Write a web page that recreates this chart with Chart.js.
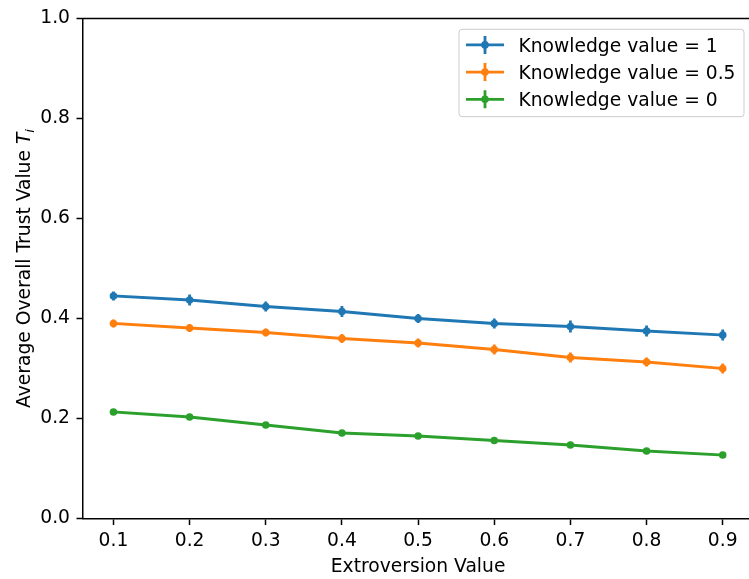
<!DOCTYPE html>
<html>
<head>
<meta charset="utf-8">
<script src="https://cdn.jsdelivr.net/npm/chart.js@4.4.1/dist/chart.umd.min.js"></script>
<style>
  html, body { margin: 0; padding: 0; background: #fff; overflow: hidden; }
  canvas { display: block; }
</style>
</head>
<body>
<canvas id="chart" width="749" height="579"></canvas>
<script>
// Extroversion values on the x axis
const extroversion = [0.1, 0.2, 0.3, 0.4, 0.5, 0.6, 0.7, 0.8, 0.9];
const xTickValues = [0.1, 0.2, 0.3, 0.4, 0.5, 0.6, 0.7, 0.8, 0.9];
const yTickValues = [0.0, 0.2, 0.4, 0.6, 0.8, 1.0];

// Average overall trust (mean) and its error for each knowledge value
const trustK1  = [0.445, 0.437, 0.424, 0.414, 0.400, 0.390, 0.384, 0.375, 0.367];
const errK1    = [0.009, 0.011, 0.010, 0.011, 0.009, 0.010, 0.012, 0.011, 0.011];
const trustK05 = [0.390, 0.381, 0.372, 0.360, 0.351, 0.338, 0.322, 0.313, 0.300];
const errK05   = [0.008, 0.008, 0.008, 0.009, 0.009, 0.010, 0.010, 0.009, 0.010];
const trustK0  = [0.213, 0.203, 0.187, 0.171, 0.165, 0.156, 0.147, 0.135, 0.127];
const errK0    = [0.003, 0.003, 0.003, 0.003, 0.003, 0.003, 0.003, 0.003, 0.003];

const seriesLabels = ['Knowledge value = 1', 'Knowledge value = 0.5', 'Knowledge value = 0'];
const seriesColors = ['#1f77b4', '#ff7f0e', '#2ca02c'];
const seriesMeans  = [trustK1, trustK05, trustK0];
const seriesErrors = [errK1, errK05, errK0];

const FONT = "'DejaVu Sans', sans-serif";
const FONT_PX = 18.7;
Chart.defaults.font.family = FONT;
Chart.defaults.font.size = FONT_PX;
Chart.defaults.color = '#000';

const LINE_W = 2.8;
const MARKER_R = 3.8;
const SPINE_W = 1.5;

const datasets = seriesMeans.map((means, i) => ({
  label: seriesLabels[i],
  data: extroversion.map((x, j) => ({ x: x, y: means[j] })),
  errors: seriesErrors[i],
  borderColor: seriesColors[i],
  backgroundColor: seriesColors[i],
  pointBackgroundColor: seriesColors[i],
  pointBorderWidth: 0,
  pointRadius: MARKER_R,
  pointHoverRadius: MARKER_R,
  borderWidth: LINE_W,
  borderJoinStyle: 'round',
  borderCapStyle: 'square',
  tension: 0
}));

// Vertical error bars, then the top spine, axis titles and the legend box
const decorations = {
  id: 'decorations',
  beforeDatasetsDraw(chart) {
    const { ctx, scales: { x, y } } = chart;
    ctx.save();
    ctx.lineWidth = LINE_W;
    ctx.lineCap = 'butt';
    chart.data.datasets.forEach(ds => {
      ctx.strokeStyle = ds.borderColor;
      ds.data.forEach((p, j) => {
        const e = ds.errors[j];
        const px = x.getPixelForValue(p.x);
        ctx.beginPath();
        ctx.moveTo(px, y.getPixelForValue(p.y - e));
        ctx.lineTo(px, y.getPixelForValue(p.y + e));
        ctx.stroke();
      });
    });
    ctx.restore();
  },
  afterDraw(chart) {
    const { ctx, chartArea: a, scales: { x } } = chart;
    ctx.save();

    // top spine
    ctx.strokeStyle = '#000';
    ctx.lineWidth = SPINE_W;
    ctx.beginPath();
    ctx.moveTo(a.left - SPINE_W / 2, a.top);
    ctx.lineTo(a.right, a.top);
    ctx.stroke();

    const normalFont = FONT_PX + 'px ' + FONT;
    const italFont = 'italic ' + FONT_PX + 'px ' + FONT;
    const subFont = 'italic ' + (FONT_PX * 0.7).toFixed(2) + 'px ' + FONT;

    // x axis title
    ctx.fillStyle = '#000';
    ctx.font = normalFont;
    ctx.textAlign = 'center';
    ctx.textBaseline = 'alphabetic';
    ctx.fillText('Extroversion Value', x.getPixelForValue(0.5), 571.5);

    // y axis title with italic T and subscript i
    const base = 'Average Overall Trust Value ';
    ctx.font = normalFont; const wBase = ctx.measureText(base).width;
    ctx.font = italFont;   const wT = ctx.measureText('T').width;
    ctx.font = subFont;    const wI = ctx.measureText('i').width;
    const total = wBase + wT + wI;
    ctx.translate(29.5, (a.top + a.bottom) / 2);
    ctx.rotate(-Math.PI / 2);
    ctx.textAlign = 'left';
    let cx = -total / 2;
    ctx.font = normalFont; ctx.fillText(base, cx, 0); cx += wBase;
    ctx.font = italFont;   ctx.fillText('T', cx, 0); cx += wT;
    ctx.font = subFont;    ctx.fillText('i', cx, 4.7);
    ctx.setTransform(1, 0, 0, 1, 0, 0);

    // legend
    const bx = 459, by = 29.3, bw = 285, bh = 87.4, r = 3;
    ctx.beginPath();
    ctx.moveTo(bx + r, by);
    ctx.arcTo(bx + bw, by, bx + bw, by + bh, r);
    ctx.arcTo(bx + bw, by + bh, bx, by + bh, r);
    ctx.arcTo(bx, by + bh, bx, by, r);
    ctx.arcTo(bx, by, bx + bw, by, r);
    ctx.closePath();
    ctx.fillStyle = 'rgba(255,255,255,0.8)';
    ctx.fill();
    ctx.strokeStyle = '#cccccc';
    ctx.lineWidth = 1;
    ctx.stroke();

    const baselines = [51.7, 78.9, 106.1];
    const hx0 = 466, hx1 = 504, hxc = (hx0 + hx1) / 2;
    chart.data.datasets.forEach((ds, i) => {
      const yb = baselines[i];
      const yc = yb - 6.8;
      ctx.strokeStyle = ds.borderColor;
      ctx.fillStyle = ds.borderColor;
      ctx.lineWidth = LINE_W;
      ctx.lineCap = 'butt';
      ctx.beginPath();
      ctx.moveTo(hx0, yc); ctx.lineTo(hx1, yc);
      ctx.moveTo(hxc, yc - 9); ctx.lineTo(hxc, yc + 9);
      ctx.stroke();
      ctx.beginPath();
      ctx.arc(hxc, yc, MARKER_R, 0, Math.PI * 2);
      ctx.fill();
      ctx.fillStyle = '#000';
      ctx.font = normalFont;
      ctx.textAlign = 'left';
      ctx.textBaseline = 'alphabetic';
      ctx.fillText(ds.label, 518.5, yb);
    });
    ctx.restore();
  }
};

new Chart(document.getElementById('chart'), {
  type: 'line',
  data: { datasets: datasets },
  options: {
    responsive: false,
    devicePixelRatio: 1,
    animation: false,
    layout: { autoPadding: false, padding: { top: 18.5, right: 0, left: 0, bottom: 0 } },
    plugins: { legend: { display: false }, tooltip: { enabled: false } },
    events: [],
    scales: {
      x: {
        type: 'linear',
        min: 0.06,
        max: 0.9345,
        afterBuildTicks: s => { s.ticks = xTickValues.map(v => ({ value: v })); },
        afterFit: s => { s.height = 60.5; s.paddingLeft = 0; s.paddingRight = 0; },
        ticks: { callback: v => v.toFixed(1), padding: 4.5, maxRotation: 0, autoSkip: false, color: '#000' },
        grid: { drawOnChartArea: false, drawTicks: true, tickLength: 6.5, tickWidth: SPINE_W, tickColor: '#000' },
        border: { display: true, color: '#000', width: SPINE_W }
      },
      y: {
        type: 'linear',
        min: 0,
        max: 1,
        afterBuildTicks: s => { s.ticks = yTickValues.map(v => ({ value: v })); },
        afterFit: s => { s.width = 83; s.paddingTop = 0; s.paddingBottom = 0; },
        ticks: { callback: v => v.toFixed(1), padding: 6.5, color: '#000' },
        grid: { drawOnChartArea: false, drawTicks: true, tickLength: 6.5, tickWidth: SPINE_W, tickColor: '#000' },
        border: { display: true, color: '#000', width: SPINE_W }
      }
    }
  },
  plugins: [decorations]
});
</script>
</body>
</html>
